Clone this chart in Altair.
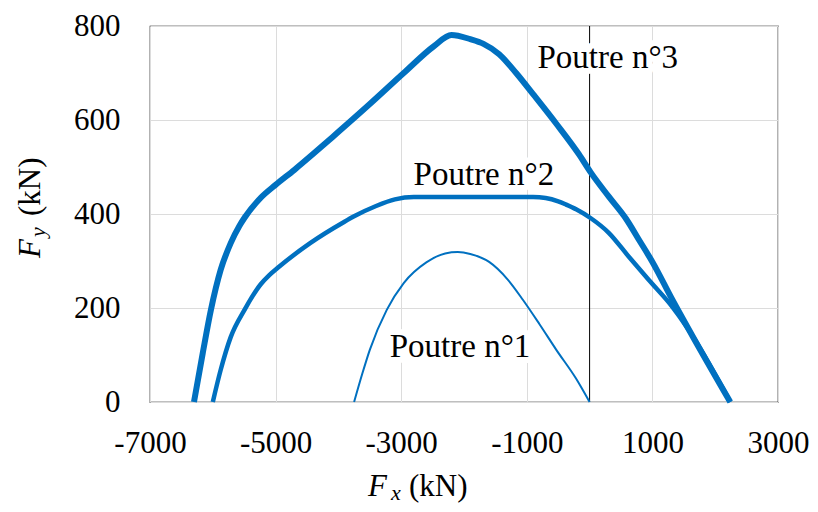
import altair as alt
import pandas as pd

# ---- data ----
p3_x = [-6300, -6160, -6030, -5875, -5715, -5575, -5495, -5240, -5000, -4700, -4400, -4100,
        -3500, -2960, -2480, -2200, -1900, -1690, -1440, -1170, -900, -530, -170, 20, 300,
        580, 800, 1000, 1320, 1640, 2240]
p3_y = [0, 104, 196, 281, 338, 375, 392, 434, 462, 494, 528, 563,
        634, 700, 757, 781, 772, 762, 740, 700, 655, 592, 527, 488, 438,
        390, 342, 298, 217, 140, 0]

p2_x = [-6000, -5875, -5715, -5495, -5240, -5100, -4970, -4450, -3910, -3750, -3400, -3100,
        -2800, -2000, -1500, -900, -700, -500, -375, -215, 20, 305, 625, 940, 1320, 1530,
        2240]
p2_y = [0, 68, 138, 196, 250, 270, 285, 338, 383, 395, 417, 431,
        436, 436, 436, 436, 434, 427, 420, 410, 391, 360, 309, 260, 202, 163,
        0]

p1_x = [-3750, -3620, -3500, -3230, -2960, -2600, -2300, -2100, -1900, -1600, -1300, -1060,
        -800, -530, -216, 0]
p1_y = [0, 60, 111, 196, 253, 297, 316, 319, 315, 298, 260, 217,
        166, 111, 50, 0]

label_text = ["Poutre n°1", "Poutre n°2", "Poutre n°3"]
label_x = [-2063, -1683, 290]
label_y = [96, 462, 711]

vline_x = [0]
x_ticks = [-7000, -5000, -3000, -1000, 1000, 3000]
y_ticks = [0, 200, 400, 600, 800]

# ---- styling ----
FONT = "Liberation Serif"
BLUE = "#0070C0"
GRID = "#dcdcdc"

df1 = pd.DataFrame({"x": p1_x, "y": p1_y})
df2 = pd.DataFrame({"x": p2_x, "y": p2_y})
df3 = pd.DataFrame({"x": p3_x, "y": p3_y})
dfl = pd.DataFrame({"x": label_x, "y": label_y, "t": label_text})
dfv = pd.DataFrame({"x": vline_x})

xs = alt.Scale(domain=[-7000, 3000], nice=False, zero=False)
ys = alt.Scale(domain=[0, 800], nice=False, zero=False)

x_axis = alt.Axis(values=x_ticks, grid=True, gridColor=GRID, gridWidth=1, domain=False,
                  ticks=False, tickSize=0, labelFont=FONT, labelFontSize=31,
                  labelColor="black", labelPadding=26, labelFlush=False,
                  labelOverlap=False, labelExpr="'' + datum.value")
y_axis = alt.Axis(values=y_ticks, grid=True, gridColor=GRID, gridWidth=1, domain=False,
                  ticks=False, tickSize=0, labelFont=FONT, labelFontSize=31,
                  labelColor="black", labelPadding=30, labelFlush=False,
                  labelOverlap=False, labelExpr="'' + datum.value")

X = alt.X("x:Q", scale=xs, axis=x_axis, title=None)
Y = alt.Y("y:Q", scale=ys, axis=y_axis, title=None)

vrule = alt.Chart(dfv).mark_rule(color="black", strokeWidth=1).encode(x=X)

halo = alt.Chart(dfl).mark_text(font=FONT, fontSize=33, color="white", stroke="white",
                                strokeWidth=12, strokeJoin="round", align="center",
                                baseline="alphabetic").encode(x=X, y=Y, text="t:N")

line3 = alt.Chart(df3).mark_line(color=BLUE, strokeWidth=6, interpolate="monotone",
                                 strokeJoin="round", strokeCap="butt").encode(x=X, y=Y)
line2 = alt.Chart(df2).mark_line(color=BLUE, strokeWidth=4.5, interpolate="monotone",
                                 strokeJoin="round", strokeCap="butt").encode(x=X, y=Y)
line1 = alt.Chart(df1).mark_line(color=BLUE, strokeWidth=2, interpolate="monotone",
                                 strokeJoin="round", strokeCap="butt").encode(x=X, y=Y)

labels = alt.Chart(dfl).mark_text(font=FONT, fontSize=33, color="black", align="center",
                                  baseline="alphabetic").encode(x=X, y=Y, text="t:N")

one = alt.Data(values=[{"k": 1}])

def piece(txt, px, py, size, italic, angle=0):
    kw = dict(text=txt, font=FONT, fontSize=size, color="black", align="left",
              baseline="alphabetic")
    if italic:
        kw["fontStyle"] = "italic"
    if angle:
        kw["angle"] = angle
    return alt.Chart(one).mark_text(**kw).encode(x=alt.value(px), y=alt.value(py))

# x-axis title  F_x (kN)
xt1 = piece("F", 218, 470, 31, True)
xt2 = piece("x", 241, 474, 22, True)
xt3 = piece("(kN)", 259, 470, 31, False)
# y-axis title  F_y (kN), rotated
yt1 = piece("F", -110, 232, 31, True, 270)
yt2 = piece("y", -105, 211, 22, True, 270)
yt3 = piece("(kN)", -110, 190, 31, False, 270)

chart = alt.layer(vrule, halo, line3, line2, line1, labels,
                  xt1, xt2, xt3, yt1, yt2, yt3).properties(
    width=628, height=376,
    padding={"left": 142, "top": 18, "right": 32, "bottom": 102},
    autosize=alt.AutoSizeParams(type="none"),
    background="white",
).configure_view(stroke="black", strokeWidth=1.2)

chart.save("out.html", embed_options={"renderer": "svg", "actions": False})
